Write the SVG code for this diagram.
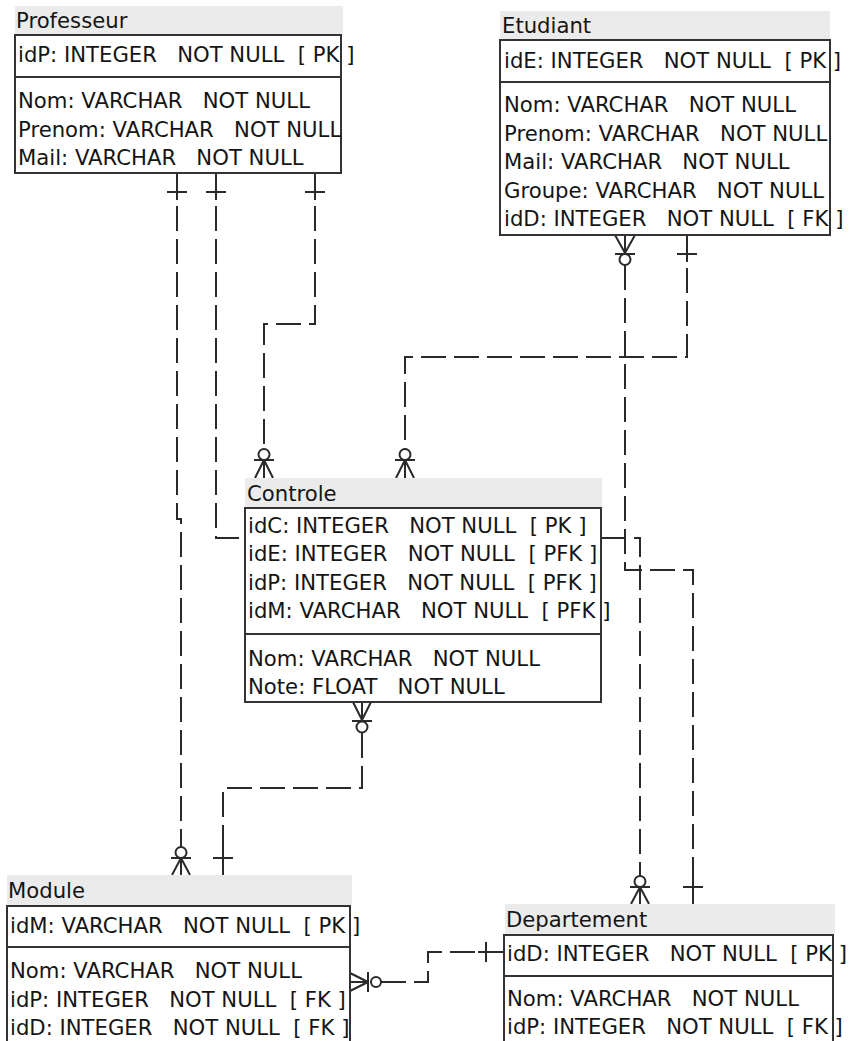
<svg xmlns="http://www.w3.org/2000/svg" width="852" height="1041" viewBox="0 0 852 1041">
<style>
  .t { font-family: "DejaVu Sans", Verdana, sans-serif; font-size: 21.2px; fill: #151515; white-space: pre; }
  .hd { fill: #ebebeb; stroke: none; }
  .bx { fill: #ffffff; stroke: #333333; stroke-width: 2; }
  .sep { stroke: #333333; stroke-width: 2; }
  .cn { fill: none; stroke: #2a2a2a; stroke-width: 2; stroke-dasharray: 25 8; }
  .mk { fill: none; stroke: #2a2a2a; stroke-width: 2; }
  .ci { fill: #ffffff; stroke: #2a2a2a; stroke-width: 2; }
</style>
<rect width="852" height="1041" fill="#ffffff"/>

<g id="connectors">
  <!-- Professeur -> Module -->
  <path class="cn" d="M177,173 V519 H181 V847"/>
  <path class="mk" d="M167,192 H187 M177,173 V200"/>
  <path class="mk" d="M181,858 L172,875 M181,858 V875 M181,858 L190,875 M171,858 H191"/>
  <circle class="ci" cx="181" cy="852.5" r="5.5"/>

  <!-- Professeur -> Controle (left) -->
  <path class="cn" d="M216,173 V538 H245"/>
  <path class="mk" d="M206,192 H226 M216,173 V200"/>

  <!-- Professeur -> Controle (top) -->
  <path class="cn" d="M315,173 V324 H264 V449"/>
  <path class="mk" d="M305,192 H325 M315,173 V200"/>
  <path class="mk" d="M264,460 L255,478 M264,460 V478 M264,460 L273,478 M254,460 H274"/>
  <circle class="ci" cx="264" cy="454.5" r="5.5"/>

  <!-- Etudiant -> Controle -->
  <path class="cn" d="M687,235 V357 H405 V449"/>
  <path class="mk" d="M677,254 H697 M687,235 V262"/>
  <path class="mk" d="M405,460 L396,478 M405,460 V478 M405,460 L414,478 M395,460 H415"/>
  <circle class="ci" cx="405" cy="454.5" r="5.5"/>

  <!-- Etudiant -> Departement -->
  <path class="cn" d="M625,265 V570 H693 V904"/>
  <path class="mk" d="M615,235 L625,253 M625,235 V253 M635,235 L625,253 M615,254 H635"/>
  <circle class="ci" cx="625" cy="259.5" r="5.5"/>
  <path class="mk" d="M683,887 H703 M693,880 V904"/>

  <!-- Controle -> Departement -->
  <path class="cn" d="M601,538 H640 V876"/>
  <path class="mk" d="M640,887 L631,904 M640,887 V904 M640,887 L649,904 M630,887 H650"/>
  <circle class="ci" cx="640" cy="881.5" r="5.5"/>

  <!-- Controle -> Module -->
  <path class="cn" d="M362,733 V788 H223 V875"/>
  <path class="mk" d="M353,702 L362,720 M362,702 V720 M371,702 L362,720 M352,721 H372"/>
  <circle class="ci" cx="362" cy="727" r="5.5"/>
  <path class="mk" d="M213,858 H233 M223,850 V875"/>

  <!-- Module -> Departement -->
  <path class="cn" d="M381,982 H428 V952 H504"/>
  <path class="mk" d="M350,973 L368,982 M350,982 H368 M350,991 L368,982 M368,972 V992"/>
  <circle class="ci" cx="376" cy="982" r="5"/>
  <path class="mk" d="M486,942 V962 M478,952 H504"/>
</g>

<g id="professeur">
  <rect class="hd" x="15" y="6" width="328" height="29"/>
  <rect class="bx" x="15" y="35" width="326" height="138"/>
  <line class="sep" x1="15" y1="77" x2="341" y2="77"/>
  <text class="t" x="16" y="28">Professeur</text>
  <text class="t" x="18" y="62">idP: INTEGER   NOT NULL  [ PK ]</text>
  <text class="t" x="18" y="108">Nom: VARCHAR   NOT NULL</text>
  <text class="t" x="18" y="137">Prenom: VARCHAR   NOT NULL</text>
  <text class="t" x="18" y="165">Mail: VARCHAR   NOT NULL</text>
</g>

<g id="etudiant">
  <rect class="hd" x="500" y="11" width="330" height="29"/>
  <rect class="bx" x="500" y="40" width="330" height="195"/>
  <line class="sep" x1="500" y1="82" x2="830" y2="82"/>
  <text class="t" x="502" y="33">Etudiant</text>
  <text class="t" x="504" y="68">idE: INTEGER   NOT NULL  [ PK ]</text>
  <text class="t" x="504" y="112">Nom: VARCHAR   NOT NULL</text>
  <text class="t" x="504" y="141">Prenom: VARCHAR   NOT NULL</text>
  <text class="t" x="504" y="169">Mail: VARCHAR   NOT NULL</text>
  <text class="t" x="504" y="198">Groupe: VARCHAR   NOT NULL</text>
  <text class="t" x="504" y="226">idD: INTEGER   NOT NULL  [ FK ]</text>
</g>

<g id="controle">
  <rect class="hd" x="245" y="478" width="357" height="30"/>
  <rect class="bx" x="245" y="508" width="356" height="194"/>
  <line class="sep" x1="245" y1="634" x2="601" y2="634"/>
  <text class="t" x="247" y="501">Controle</text>
  <text class="t" x="248" y="533">idC: INTEGER   NOT NULL  [ PK ]</text>
  <text class="t" x="248" y="561">idE: INTEGER   NOT NULL  [ PFK ]</text>
  <text class="t" x="248" y="590">idP: INTEGER   NOT NULL  [ PFK ]</text>
  <text class="t" x="248" y="618">idM: VARCHAR   NOT NULL  [ PFK ]</text>
  <text class="t" x="248" y="666">Nom: VARCHAR   NOT NULL</text>
  <text class="t" x="248" y="694">Note: FLOAT   NOT NULL</text>
</g>

<g id="module">
  <rect class="hd" x="7" y="875" width="345" height="31"/>
  <rect class="bx" x="7" y="906" width="343" height="150"/>
  <line class="sep" x1="7" y1="947" x2="350" y2="947"/>
  <text class="t" x="8" y="898">Module</text>
  <text class="t" x="10" y="933">idM: VARCHAR   NOT NULL  [ PK ]</text>
  <text class="t" x="10" y="978">Nom: VARCHAR   NOT NULL</text>
  <text class="t" x="10" y="1007">idP: INTEGER   NOT NULL  [ FK ]</text>
  <text class="t" x="10" y="1035">idD: INTEGER   NOT NULL  [ FK ]</text>
</g>

<g id="departement">
  <rect class="hd" x="505" y="904" width="330" height="31"/>
  <rect class="bx" x="504" y="935" width="329" height="120"/>
  <line class="sep" x1="504" y1="976" x2="833" y2="976"/>
  <text class="t" x="506" y="927">Departement</text>
  <text class="t" x="507" y="961">idD: INTEGER   NOT NULL  [ PK ]</text>
  <text class="t" x="507" y="1006">Nom: VARCHAR   NOT NULL</text>
  <text class="t" x="507" y="1034">idP: INTEGER   NOT NULL  [ FK ]</text>
</g>
</svg>
